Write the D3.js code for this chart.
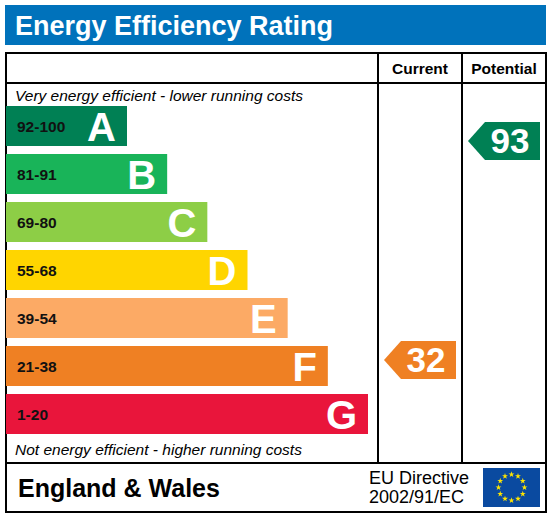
<!DOCTYPE html>
<html>
<head>
<meta charset="utf-8">
<script src="https://cdn.jsdelivr.net/npm/d3@7"></script>
<style>
  body { margin: 0; background: #fff; }
  text { font-family: "Liberation Sans", Arial, sans-serif; }
</style>
</head>
<body>
<div id="chart"></div>
<script>
// bands, top (best) to bottom
var bands = ['A', 'B', 'C', 'D', 'E', 'F', 'G'];
var ranges = ['92-100', '81-91', '69-80', '55-68', '39-54', '21-38', '1-20'];
var lows = [92, 81, 69, 55, 39, 21, 1];
var highs = [100, 91, 80, 68, 54, 38, 20];
var colors = ['#008054', '#19b459', '#8dce46', '#ffd500', '#fcaa65', '#ef8023', '#e9153b'];
var ratings = [
  { column: 'Current', value: 32 },
  { column: 'Potential', value: 93 }
];

var width = 550, height = 517;

var svg = d3.select('#chart').append('svg')
    .attr('width', width)
    .attr('height', height);

// title bar
svg.append('rect')
    .attr('x', 5).attr('y', 5)
    .attr('width', 541).attr('height', 40)
    .style('fill', '#0072bb');
svg.append('text')
    .attr('x', 15).attr('y', 35)
    .style('fill', '#fff')
    .style('font-size', '27px')
    .style('font-weight', 'bold')
    .text('Energy Efficiency Rating');

// frame
var box = { left: 6, top: 53, right: 546, bottom: 512 };
var colCur = 378, colPot = 462, headBottom = 83, footTop = 463;

svg.append('rect')
    .attr('x', box.left).attr('y', box.top)
    .attr('width', box.right - box.left).attr('height', box.bottom - box.top)
    .style('fill', 'none').style('stroke', '#000').style('stroke-width', 2);

[[box.left, headBottom, box.right, headBottom],
 [box.left, footTop, box.right, footTop],
 [colCur, box.top, colCur, footTop],
 [colPot, box.top, colPot, footTop]].forEach(function(l) {
  svg.append('line')
      .attr('x1', l[0]).attr('y1', l[1]).attr('x2', l[2]).attr('y2', l[3])
      .style('stroke', '#000').style('stroke-width', 2);
});

var colX = d3.scaleOrdinal()
    .domain(['Current', 'Potential'])
    .range([colCur, colPot]);
var colW = colPot - colCur;

svg.selectAll('.head')
    .data(colX.domain())
  .enter().append('text')
    .attr('x', function(d) { return colX(d) + colW / 2; })
    .attr('y', 74)
    .attr('text-anchor', 'middle')
    .style('font-size', '15.5px')
    .style('font-weight', 'bold')
    .text(function(d) { return d; });

svg.append('text')
    .attr('x', 15).attr('y', 101)
    .style('font-size', '15.5px')
    .style('font-style', 'italic')
    .text('Very energy efficient - lower running costs');
svg.append('text')
    .attr('x', 15).attr('y', 455)
    .style('font-size', '15.5px')
    .style('font-style', 'italic')
    .text('Not energy efficient - higher running costs');

// band bars
var y = d3.scaleBand()
    .domain(bands)
    .range([106, 434])
    .paddingInner(1 / 6)
    .paddingOuter(0);
var barW = d3.scaleLinear()
    .domain([0, bands.length - 1])
    .range([121, 362]);

var rows = svg.selectAll('.band')
    .data(bands)
  .enter().append('g')
    .attr('transform', function(d) { return 'translate(' + 6 + ',' + y(d) + ')'; });

rows.append('rect')
    .attr('width', function(d, i) { return barW(i); })
    .attr('height', y.bandwidth())
    .style('fill', function(d, i) { return colors[i]; });

rows.append('text')
    .attr('x', 11)
    .attr('y', y.bandwidth() / 2 + 6)
    .style('font-size', '15.5px')
    .style('font-weight', 'bold')
    .style('fill', '#111')
    .text(function(d, i) { return ranges[i]; });

rows.append('text')
    .attr('x', function(d, i) { return barW(i) - 11; })
    .attr('y', y.bandwidth() / 2 + 15)
    .attr('text-anchor', 'end')
    .style('font-size', '40px')
    .style('font-weight', 'bold')
    .style('fill', '#fff')
    .text(function(d) { return d; });

// rating arrows, placed inside their band by value
function bandIndex(v) {
  for (var i = 0; i < bands.length; i++) if (v >= lows[i]) return i;
  return bands.length - 1;
}
function arrowY(v) {
  var i = bandIndex(v);
  return y(bands[i]) + (highs[i] - v) / (highs[i] - lows[i]) * y.bandwidth();
}

var aw = 72, ah = 38, tip = 17;
var arrows = svg.selectAll('.rating')
    .data(ratings)
  .enter().append('g')
    .attr('transform', function(d) {
      return 'translate(' + (colX(d.column) + 6) + ',' + arrowY(d.value) + ')';
    });

arrows.append('path')
    .attr('d', 'M0,0 L' + tip + ',' + (-ah / 2) + ' L' + aw + ',' + (-ah / 2) +
               ' L' + aw + ',' + (ah / 2) + ' L' + tip + ',' + (ah / 2) + ' Z')
    .style('fill', function(d) { return colors[bandIndex(d.value)]; });

arrows.append('text')
    .attr('x', aw - 30)
    .attr('y', 12)
    .attr('text-anchor', 'middle')
    .style('font-size', '35px')
    .style('font-weight', 'bold')
    .style('fill', '#fff')
    .text(function(d) { return d.value; });

// footer
svg.append('text')
    .attr('x', 18).attr('y', 497)
    .style('font-size', '25px')
    .style('font-weight', 'bold')
    .text('England & Wales');
svg.append('text')
    .attr('x', 369).attr('y', 484)
    .style('font-size', '18px')
    .text('EU Directive');
svg.append('text')
    .attr('x', 369).attr('y', 503)
    .style('font-size', '18px')
    .text('2002/91/EC');

// EU flag
var flag = { x: 483, y: 468, w: 57, h: 39 };
svg.append('rect')
    .attr('x', flag.x).attr('y', flag.y)
    .attr('width', flag.w).attr('height', flag.h)
    .style('fill', '#0a4aa0');

var star = d3.symbol().type(d3.symbolStar).size(11);
svg.selectAll('.star')
    .data(d3.range(12))
  .enter().append('path')
    .attr('d', star)
    .attr('transform', function(i) {
      var a = i / 12 * 2 * Math.PI;
      return 'translate(' + (flag.x + flag.w / 2 + 13 * Math.sin(a)) + ',' +
             (flag.y + flag.h / 2 - 13 * Math.cos(a)) + ')';
    })
    .style('fill', '#ffe500');
</script>
</body>
</html>
